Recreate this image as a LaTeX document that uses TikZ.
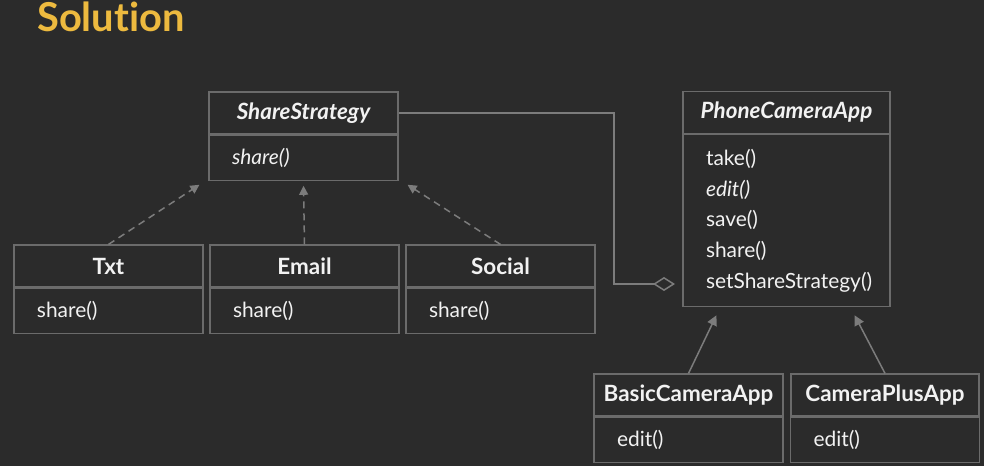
\documentclass[tikz,border=0pt]{standalone}
\usepackage{fontspec}
\setmainfont{Lato}[Ligatures=NoCommon]
\usetikzlibrary{positioning,arrows.meta}

\definecolor{slidebg}{HTML}{2B2B2B}
\definecolor{boxline}{HTML}{6B6B6B}
\definecolor{linkline}{HTML}{7C7C7C}
\definecolor{inktext}{HTML}{F2F2F2}
\definecolor{titleink}{HTML}{EDBA3F}

\tikzset{
    classname/.style={draw=boxline, line width=1.2bp, text=inktext,
        minimum width=189bp, minimum height=42bp, inner sep=0pt,
        font=\fontsize{22.5}{26}\selectfont\bfseries},
    classbody/.style={draw=boxline, line width=1.2bp, text=inktext,
        minimum width=189bp, minimum height=45bp, inner xsep=23bp, inner ysep=0pt,
        text width=143bp, align=left, font=\fontsize{21}{30.7}\selectfont},
    realizes/.style={draw=linkline, line width=1.5bp, dash pattern=on 7bp off 5bp,
        -{Triangle[width=9bp,length=9bp]}},
    extends/.style={draw=linkline, line width=1.5bp,
        -{Triangle[width=10bp,length=10bp]}},
    holds/.style={draw=linkline, line width=1.5bp,
        -{Diamond[open,width=14bp,length=22bp,line width=1.5bp]}}
}

\begin{document}
\begin{tikzpicture}[x=1bp,y=-1bp]
    \fill[slidebg] (0,0) rectangle (984,466);
    \node[anchor=base west, inner sep=0pt, text=titleink,
          font=\fontsize{40}{44}\selectfont\bfseries] (title) at (37,32) {Solution};

    % strategy side
    \node[classname] (sshead) at (303.5,113) {\itshape ShareStrategy};
    \node[classbody, below=0pt of sshead] (ssbody) {\textit{share()}};

    \node[classname] (txthead) at (108.5,266) {Txt};
    \node[classbody, below=0pt of txthead] (txtbody) {share()};
    \node[classname] (mailhead) at (304.5,266) {Email};
    \node[classbody, below=0pt of mailhead] (mailbody) {share()};
    \node[classname] (socialhead) at (500.5,266) {Social};
    \node[classbody, below=0pt of socialhead] (socialbody) {share()};

    % camera side
    \node[classname, minimum width=207bp] (apphead) at (786.5,112.5) {\itshape PhoneCameraApp};
    \node[classbody, below=0pt of apphead, minimum width=207bp, text width=161bp,
          minimum height=172bp] (appbody)
        {take()\\ \textit{edit()}\\ save()\\ share()\\ setShareStrategy()};

    \node[classname] (basichead) at (688.5,395) {BasicCameraApp};
    \node[classbody, below=0pt of basichead] (basicbody) {edit()};
    \node[classname, minimum width=188bp] (plushead) at (885,395) {CameraPlusApp};
    \node[classbody, below=0pt of plushead, minimum width=188bp] (plusbody) {edit()};

    \coordinate (elbow) at (614,284);
    \coordinate (agg) at (675,284);

    \draw[realizes] (txthead.north) -- ([xshift=-9bp,yshift=-4bp]ssbody.south west);
    \draw[realizes] (mailhead.north) -- ([yshift=-5bp]ssbody.south);
    \draw[realizes] (socialhead.north) -- ([xshift=9bp,yshift=-4bp]ssbody.south east);
    \draw[holds] (sshead.east) -| (elbow) -- (agg);
    \draw[extends] (basichead.north) -- ([xshift=34bp,yshift=-8bp]appbody.south west);
    \draw[extends] (plushead.north) -- ([xshift=-36bp,yshift=-8bp]appbody.south east);
\end{tikzpicture}
\end{document}
